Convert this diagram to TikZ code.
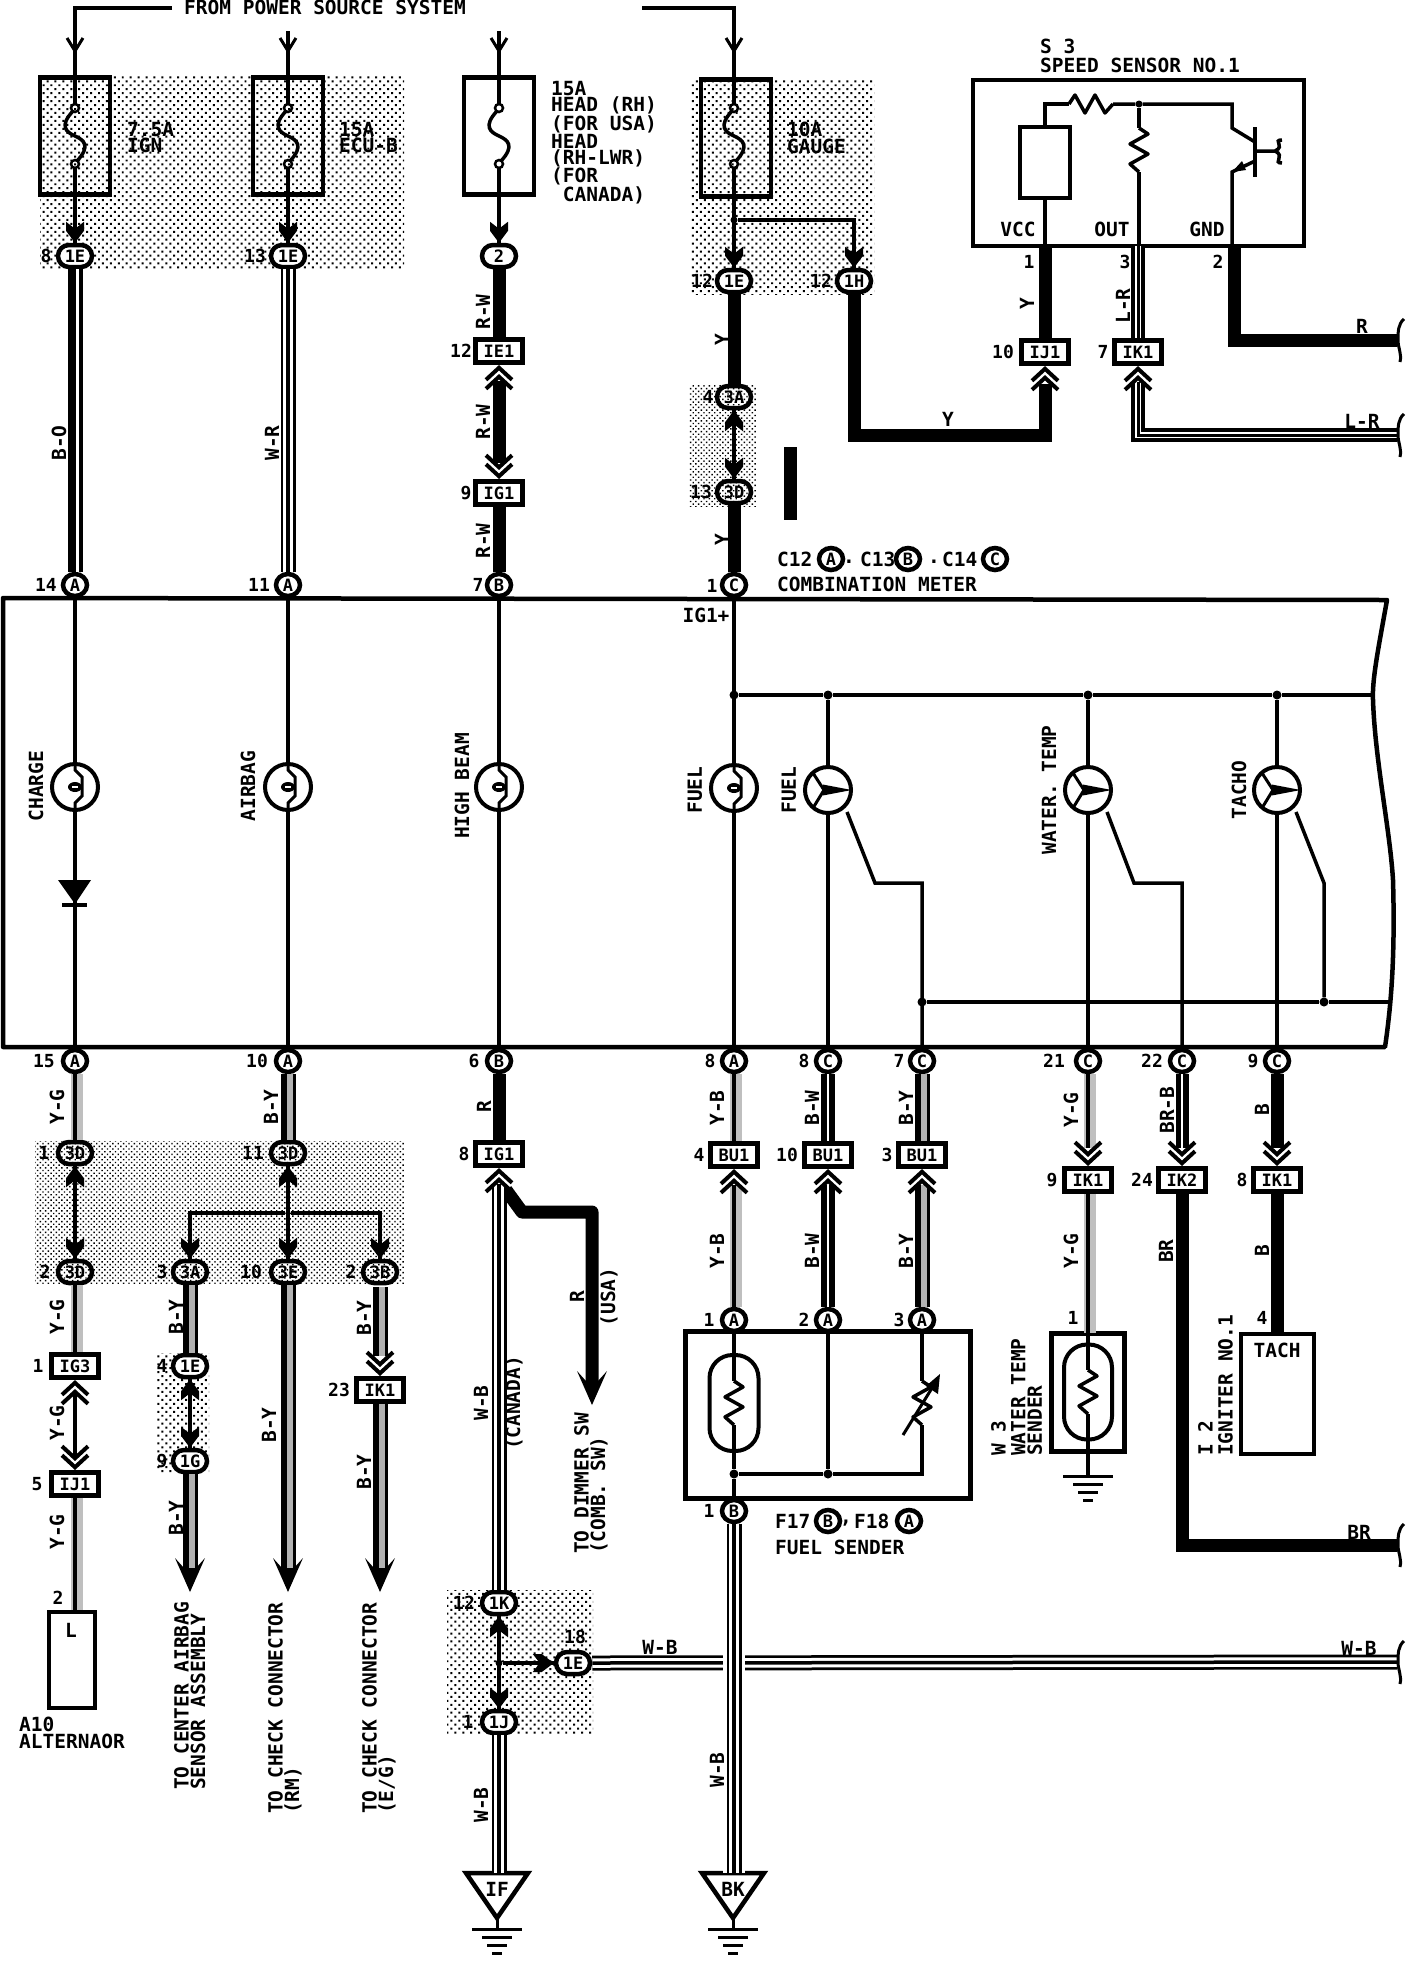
\documentclass[tikz,border=0pt]{standalone}
\usepackage{fontspec}
\setmainfont{DejaVu Sans Mono}
\usetikzlibrary{shapes.geometric,shapes.misc,patterns.meta}

\tikzset{
  x=1pt,y=-1pt,
  txt/.style={inner sep=0pt,font=\fontsize{19.5}{16.5}\selectfont\bfseries,align=left},
  rtxt/.style={txt,rotate=90},
  pinno/.style={inner sep=0pt,font=\fontsize{18}{18}\selectfont\bfseries},
  jcnd/.style={rounded rectangle,draw,line width=4.5pt,minimum width=34pt,minimum height=22pt,inner sep=0pt,font=\fontsize{17}{17}\selectfont\bfseries},
  jcn/.style={jcnd,fill=white},
  mcn/.style={ellipse,draw,fill=white,line width=4.5pt,minimum width=24pt,minimum height=22pt,inner sep=0pt,font=\fontsize{17}{17}\selectfont\bfseries},
  bcn/.style={rectangle,draw,fill=white,line width=4.5pt,minimum width=47pt,minimum height=23pt,inner sep=0pt,font=\fontsize{17}{17}\selectfont\bfseries},
  fusebox/.style={rectangle,draw,line width=4.5pt,minimum width=70pt,minimum height=117pt},
  capsule/.style={rectangle,draw,line width=4pt,rounded corners=23pt,minimum width=49pt,minimum height=96pt},
  compbox/.style={rectangle,draw,line width=4pt,inner sep=0pt},
  dotn/.style={circle,fill,inner sep=0pt,minimum size=9pt},
  shadea/.style={pattern={Dots[distance=5.6pt,radius=1.4pt,angle=45]}},
  shadeb/.style={pattern={Dots[distance=3.8pt,radius=1pt,angle=45]}},
  iw/.style={line width=3.5pt},
  wsolid/.style={line width=13pt},
  wbo/.style={line width=15pt,postaction={draw=white,line width=2.5pt,transform canvas={xshift=2.5pt}}},
  wwb/.style={line width=15pt,postaction={draw=white,line width=9.5pt},postaction={draw=black,line width=3.5pt}},
  wlr/.style={line width=14pt,postaction={draw=white,line width=6.5pt},postaction={draw=black,line width=3pt}},
  wgray/.style={line width=4.5pt,preaction={draw=black!25,line width=12pt,transform canvas={xshift=2pt}}},
  wby/.style={line width=15pt,postaction={draw=black!30,line width=6pt,transform canvas={xshift=2pt}}},
  wbw/.style={line width=14pt,postaction={draw=white,line width=2pt}},
  fusesym/.pic={
    \coordinate (-top) at (0,-32);
    \coordinate (-bot) at (0,32);
    \draw[line width=2.5pt] (0,-28) circle[radius=4];
    \draw[line width=2.5pt] (0,28) circle[radius=4];
    \draw[line width=3.5pt] (-2,-25) .. controls (-16,-10) and (-9,-4) .. (0,0) .. controls (9,4) and (16,10) .. (2,25);
  },
  lampsym/.pic={
    \coordinate (-n) at (0,-25);
    \coordinate (-s) at (0,25);
    \draw[line width=4pt] (0,0) circle[radius=23];
    \fill (0,0) ellipse[x radius=7,y radius=5];
    \draw[white,line width=1.5pt] (-3,0) -- (3,0);
    \draw[line width=3pt] (0,-25) -- (0,-17) -- (7,-10) -- (7,9) -- (0,16) -- (0,25);
  },
  gaugesym/.pic={
    \coordinate (-n) at (0,-24);
    \coordinate (-s) at (0,24);
    \coordinate (-se) at (19,22);
    \draw[line width=4pt] (0,0) circle[radius=23];
    \draw[line width=3pt] (-15,-17) -- (-4,0) -- (-15,18);
    \draw[line width=2.5pt,fill=black] (-4,-4) -- (17,0) -- (-4,4) -- cycle;
  },
  zigres/.pic={
    \coordinate (-n) at (0,-22);
    \coordinate (-s) at (0,22);
    \draw[line width=3.5pt,line join=round] (0,-22) -- (9,-16) -- (-9,-6) -- (9,4) -- (-9,14) -- (0,22);
  },
  chevup/.pic={
    \draw[line width=4pt] (-13,15) -- (0,3) -- (13,15);
    \draw[line width=4pt] (-13,24) -- (0,12) -- (13,24);
  },
  jtip/.pic={
    \fill (0,0) -- (9,12) -- (9,21) -- (0,14) -- (-9,21) -- (-9,12) -- cycle;
  },
  feedtip/.pic={
    \draw[line width=3pt] (-8,13) -- (0,0) -- (8,13);
  },
  bigtip/.pic={
    \fill (0,0) -- (15,34) -- (6,24) -- (-6,24) -- (-15,34) -- cycle;
  },
  brk/.pic={
    \draw[line width=3pt] (7,-21) .. controls (1,-16) and (1,-8) .. (1,0) .. controls (1,8) and (5,14) .. (3,22);
  },
  gnd/.pic={
    \draw[line width=3pt] (-25,0) -- (25,0);
    \draw[line width=3pt] (-15,8) -- (15,8);
    \draw[line width=3pt] (-10,16) -- (10,16);
    \draw[line width=3pt] (-5,24) -- (5,24);
  }
}

\begin{document}
\begin{tikzpicture}
\useasboundingbox (0,0) rectangle (1408,1982);

% shaded areas
\fill[shadea] (40,75) rectangle (404,268);
\fill[shadea] (690,79) rectangle (874,294);
\fill[shadeb] (689,385) rectangle (756,506);
\fill[shadeb] (35,1141) rectangle (404,1283);
\fill[shadea] (156,1353) rectangle (209,1473);
\fill[shadea] (447,1590) rectangle (593,1733);

% top feed
\node[txt] (pwr) at (325,7) {FROM POWER SOURCE SYSTEM};
\coordinate (pwrl) at (172,8);
\coordinate (pwrr) at (642,8);
\coordinate (fp2) at (288,31);
\coordinate (fp3) at (499,31);

% fuses
\node[fusebox] (fuse1) at (75,136) {};
\node[fusebox] (fuse2) at (288,136) {};
\node[fusebox] (fuse3) at (499,136) {};
\node[fusebox] (fuse4) at (736,138) {};
\pic (fa) at (75,136) {fusesym};
\pic (fb) at (288,136) {fusesym};
\pic (fc) at (499,136) {fusesym};
\pic (fd) at (734,136) {fusesym};
\node[txt,anchor=north west] (t75a) at (127,122) {7.5A\\IGN};
\node[txt,anchor=north west] (t15a) at (339,122) {15A\\ECU-B};
\node[txt,anchor=north west] (thead) at (551,81) {15A\\HEAD (RH)\\(FOR USA)\\HEAD\\(RH-LWR)\\(FOR\\\ CANADA)};
\node[txt,anchor=north west] (t10a) at (787,122) {10A\\GAUGE};

% connectors above the meter
\node[jcn] (je8) at (75,256) {1E};
\node[jcn] (je13) at (288,256) {1E};
\node[jcn] (j2) at (499,256) {2};
\node[jcn] (je12) at (734,281) {1E};
\node[jcn] (jh12) at (854,281) {1H};
\node[jcnd] (ja4) at (734,397) {3A};
\node[jcnd] (jd13) at (734,492) {3D};
\node[bcn] (ie1) at (499,351) {IE1};
\node[bcn] (ig1a) at (499,493) {IG1};
\node[pinno] (n8a) at (46,256) {8};
\node[pinno] (n13a) at (255,256) {13};
\node[pinno] (n12a) at (461,351) {12};
\node[pinno] (n9a) at (466,493) {9};
\node[pinno] (n12b) at (702,281) {12};
\node[pinno] (n12c) at (821,281) {12};
\node[pinno] (n4a) at (708,397) {4};
\node[pinno] (n13b) at (701,492) {13};
\node[mcn] (ca14) at (75,585) {A};
\node[mcn] (ca11) at (288,585) {A};
\node[mcn] (cb7) at (499,585) {B};
\node[mcn] (cc1) at (734,585) {C};
\node[pinno] (n14) at (46,585) {14};
\node[pinno] (n11) at (259,585) {11};
\node[pinno] (n7) at (478,585) {7};
\node[pinno] (n1) at (712,586) {1};
\node[rtxt] (lbo) at (59,443) {B-O};
\node[rtxt] (lwr) at (272,443) {W-R};
\node[rtxt] (lrw1) at (483,312) {R-W};
\node[rtxt] (lrw2) at (483,422) {R-W};
\node[rtxt] (lrw3) at (483,541) {R-W};
\node[rtxt] (ly1) at (722,340) {Y};
\node[rtxt] (ly2) at (722,540) {Y};

% speed sensor
\node[compbox,minimum width=331pt,minimum height=166pt] (s3) at (1138.5,163) {};
\node[txt,anchor=west] (ts3) at (1040,46) {S 3};
\node[txt,anchor=west] (ts3b) at (1040,65) {SPEED SENSOR NO.1};
\node[compbox,minimum width=50pt,minimum height=71pt] (hall) at (1045,162.5) {};
\pic[rotate=90] (rh) at (1091,104) {zigres};
\pic (rv) at (1139,150) {zigres};
\node[dotn,minimum size=7pt] (dout) at (1139,104) {};
\node[txt] (tvcc) at (1018,229) {VCC};
\node[txt] (tout) at (1112,229) {OUT};
\node[txt] (tgnd) at (1207,229) {GND};
\coordinate (ps1) at (1045,246);
\coordinate (ps3) at (1138,246);
\coordinate (ps2) at (1234,246);
\draw[iw] (hall.north) |- (rh-n);
\draw[iw] (rh-s) -- (dout) -- (1232,104) -- (1232,128) -- (1255,142);
\draw[iw] (dout) -- (rv-n);
\draw[iw] (rv-s) -- (1139,246);
\draw[iw] (hall.south) -- (ps1);
\draw[line width=4pt] (1255,127) -- (1255,177);
\draw[iw] (1255,151) -- (1275,151) .. controls (1286,146) and (1272,140) .. (1282,140);
\draw[iw] (1275,151) .. controls (1286,156) and (1272,163) .. (1282,163);
\draw[iw] (1255,161) -- (1232,172) -- (1232,246);
\fill (1232,172) -- (1242,161) -- (1246,170) -- cycle;
\node[pinno] (ns1) at (1029,262) {1};
\node[pinno] (ns3) at (1125,262) {3};
\node[pinno] (ns2) at (1218,262) {2};
\node[bcn] (ij1a) at (1045,352) {IJ1};
\node[bcn] (ik1a) at (1138,352) {IK1};
\node[pinno] (n10a) at (1003,352) {10};
\node[pinno] (n7a) at (1103,352) {7};
\coordinate (ycor) at (1045,435);
\coordinate (lrcor) at (1138,435);
\coordinate (lrend) at (1397,435);
\coordinate (rcor) at (1234,340);
\coordinate (rend) at (1397,340);
\node[rtxt] (ly3) at (1027,304) {Y};
\node[rtxt] (llr) at (1123,306) {L-R};
\node[txt] (ly4) at (948,419) {Y};
\node[txt] (tr1) at (1362,326) {R};
\node[txt] (tlr) at (1362,421) {L-R};
\fill (784,447) rectangle (797,520);
\node[txt,anchor=west] (tc12) at (777,559) {C12};
\node[mcn] (lega) at (831,559) {A};
\node[txt] (td1) at (849,562) {.};
\node[txt,anchor=west] (tc13) at (860,559) {C13};
\node[mcn] (legb) at (908,559) {B};
\node[txt] (td2) at (934,562) {.};
\node[txt,anchor=west] (tc14) at (942,559) {C14};
\node[mcn] (legc) at (995,559) {C};
\node[txt,anchor=west] (tcm) at (777,584) {COMBINATION METER};

% meter
\draw[line width=4.5pt,line join=round] (3,598) -- (1387,600) .. controls (1378,650) and (1372,680) .. (1373,700) .. controls (1375,760) and (1390,830) .. (1393,880) .. controls (1395,950) and (1392,1000) .. (1385,1047) -- (3,1047) -- cycle;
\node[txt] (tig) at (706,615) {IG1+};
\pic (lpa) at (75,787) {lampsym};
\pic (lpb) at (288,787) {lampsym};
\pic (lpc) at (499,787) {lampsym};
\pic (lpd) at (734,788) {lampsym};
\pic (gga) at (828,790) {gaugesym};
\pic (ggb) at (1088,790) {gaugesym};
\pic (ggc) at (1277,790) {gaugesym};
\node[rtxt] (tcha) at (36,786) {CHARGE};
\node[rtxt] (tair) at (248,786) {AIRBAG};
\node[rtxt] (thb) at (462,786) {HIGH BEAM};
\node[rtxt] (tfu1) at (695,790) {FUEL};
\node[rtxt] (tfu2) at (789,790) {FUEL};
\node[rtxt] (twt) at (1049,790) {WATER. TEMP};
\node[rtxt] (ttc) at (1239,790) {TACHO};
\node[dotn] (dba) at (734,695) {};
\node[dotn] (dbb) at (828,695) {};
\node[dotn] (dbc) at (1088,695) {};
\node[dotn] (dbd) at (1277,695) {};
\coordinate (bend) at (1373,695);
\node[dotn] (dra) at (922,1002) {};
\node[dotn] (drb) at (1324,1002) {};
\coordinate (rend2) at (1392,1002);

% connectors below the meter
\node[mcn] (ca15) at (75,1061) {A};
\node[mcn] (ca10) at (288,1061) {A};
\node[mcn] (cb6) at (499,1061) {B};
\node[mcn] (ca8) at (734,1061) {A};
\node[mcn] (cc8) at (828,1061) {C};
\node[mcn] (cc7) at (922,1061) {C};
\node[mcn] (cc21) at (1088,1061) {C};
\node[mcn] (cc22) at (1182,1061) {C};
\node[mcn] (cc9) at (1277,1061) {C};
\node[pinno] (n15) at (44,1061) {15};
\node[pinno] (n10b) at (257,1061) {10};
\node[pinno] (n6) at (474,1061) {6};
\node[pinno] (n8b) at (710,1061) {8};
\node[pinno] (n8c) at (804,1061) {8};
\node[pinno] (n7b) at (899,1061) {7};
\node[pinno] (n21) at (1054,1061) {21};
\node[pinno] (n22) at (1152,1061) {22};
\node[pinno] (n9b) at (1253,1061) {9};

\draw[iw] (ca14.south) -- (lpa-n);
\draw[iw] (lpa-s) -- (ca15.north);
\draw[iw] (ca11.south) -- (lpb-n);
\draw[iw] (lpb-s) -- (ca10.north);
\draw[iw] (cb7.south) -- (lpc-n);
\draw[iw] (lpc-s) -- (cb6.north);
\draw[iw] (cc1.south) -- (lpd-n);
\draw[iw] (lpd-s) -- (ca8.north);
\draw[iw] (dba) -- (dbb) -- (dbc) -- (dbd) -- (bend);
\draw[iw] (dbb) -- (gga-n);
\draw[iw] (gga-s) -- (cc8.north);
\draw[iw] (dbc) -- (ggb-n);
\draw[iw] (ggb-s) -- (cc21.north);
\draw[iw] (dbd) -- (ggc-n);
\draw[iw] (ggc-s) -- (cc9.north);
\draw[iw] (gga-se) -- (875,883) -- (922,883) -- (cc7.north);
\draw[iw] (ggb-se) -- (1134,883) -- (1182,883) -- (cc22.north);
\draw[iw] (ggc-se) -- (1324,883) -- (drb);
\draw[iw] (dra) -- (drb) -- (rend2);
\fill (58,880) -- (91,880) -- (75,904) -- cycle;
\draw[line width=3.5pt] (62,905) -- (87,905);

\node[jcnd] (jd1) at (75,1153) {3D};
\node[jcnd] (jd11) at (288,1153) {3D};
\node[jcnd] (jd2) at (75,1272) {3D};
\node[jcnd] (ja3) at (190,1272) {3A};
\node[jcnd] (je10) at (288,1272) {3E};
\node[jcnd] (jb2) at (380,1272) {3B};
\node[jcn] (je4) at (190,1366) {1E};
\node[jcn] (jg9) at (190,1461) {1G};
\node[pinno] (n1b) at (44,1153) {1};
\node[pinno] (n11b) at (253,1153) {11};
\node[pinno] (n2b) at (45,1272) {2};
\node[pinno] (n3b) at (162,1272) {3};
\node[pinno] (n10c) at (251,1272) {10};
\node[pinno] (n2c) at (351,1272) {2};
\node[pinno] (n4b) at (162,1366) {4};
\node[pinno] (n9c) at (162,1461) {9};
\node[bcn] (ig3) at (75,1366) {IG3};
\node[bcn] (ij1b) at (75,1484) {IJ1};
\node[bcn] (ik1b) at (380,1390) {IK1};
\node[bcn] (ig1b) at (499,1154) {IG1};
\node[pinno] (n1c) at (38,1366) {1};
\node[pinno] (n5) at (37,1484) {5};
\node[pinno] (n23) at (339,1390) {23};
\node[pinno] (n8d) at (464,1154) {8};
\node[bcn] (bua) at (734,1155) {BU1};
\node[bcn] (bub) at (828,1155) {BU1};
\node[bcn] (buc) at (922,1155) {BU1};
\node[pinno] (n4c) at (699,1155) {4};
\node[pinno] (n10d) at (787,1155) {10};
\node[pinno] (n3c) at (887,1155) {3};
\node[bcn] (ik1c) at (1088,1180) {IK1};
\node[bcn] (ik2) at (1182,1180) {IK2};
\node[bcn] (ik1d) at (1277,1180) {IK1};
\node[pinno] (n9d) at (1052,1180) {9};
\node[pinno] (n24) at (1142,1180) {24};
\node[pinno] (n8e) at (1242,1180) {8};

% alternator
\node[compbox,minimum width=46pt,minimum height=96pt] (alt) at (72,1660) {};
\node[txt] (tl) at (71,1630) {L};
\node[pinno] (n2d) at (58,1598) {2};
\node[txt,anchor=north west] (talt) at (19,1717) {A10\\ALTERNAOR};

% fuel sender
\node[compbox,line width=5pt,minimum width=285pt,minimum height=167pt] (fsend) at (827.5,1414.5) {};
\node[mcn] (caf1) at (734,1320) {A};
\node[mcn] (caf2) at (828,1320) {A};
\node[mcn] (caf3) at (922,1320) {A};
\node[mcn] (cbf1) at (734,1511) {B};
\node[pinno] (n1f) at (709,1320) {1};
\node[pinno] (n2f) at (804,1320) {2};
\node[pinno] (n3f) at (899,1320) {3};
\node[pinno] (n1g) at (709,1511) {1};
\node[capsule] (capf) at (734,1403) {};
\pic (rf) at (734,1403) {zigres};
\pic (rw) at (922,1403) {zigres};
\node[dotn] (dfa) at (734,1474) {};
\node[dotn] (dfb) at (828,1474) {};
\draw[iw] (caf1.south) -- (rf-n);
\draw[iw] (rf-s) -- (dfa);
\draw[iw] (dfa) -- (cbf1.north);
\draw[iw] (caf2.south) -- (dfb);
\draw[iw] (caf3.south) -- (rw-n);
\draw[iw] (rw-s) -- (922,1474) -- (dfb) -- (dfa);
\draw[line width=3pt] (903,1435) -- (932,1388);
\fill (940,1374) -- (938,1394) -- (926,1386) -- cycle;
\node[txt,anchor=west] (tf17) at (775,1521) {F17};
\node[mcn] (legd) at (828,1521) {B};
\node[txt] (tcm2) at (846,1523) {,};
\node[txt,anchor=west] (tf18) at (854,1521) {F18};
\node[mcn] (lege) at (909,1521) {A};
\node[txt,anchor=west] (tfs) at (775,1547) {FUEL SENDER};

% water temp sender
\node[compbox,line width=5pt,minimum width=73pt,minimum height=118pt] (wsend) at (1088,1392) {};
\node[capsule,minimum width=48pt,minimum height=95pt] (capw) at (1088,1392) {};
\pic (rs) at (1088,1392) {zigres};
\node[pinno] (n1w) at (1073,1318) {1};
\coordinate (gw) at (1088,1476);
\coordinate (wtop) at (1088,1333);
\draw[iw] (wtop) -- (rs-n);
\draw[iw] (rs-s) -- (gw);
\pic at (gw) {gnd};
\node[rtxt,anchor=north west] (tw3) at (991,1456) {W 3};
\node[rtxt,anchor=north west] (twts) at (1011,1456) {WATER TEMP\\SENDER};

% igniter
\node[compbox,minimum width=73pt,minimum height=120pt] (tach) at (1277,1394) {};
\node[txt] (ttach) at (1277,1350) {TACH};
\node[pinno] (n4w) at (1262,1318) {4};
\node[rtxt,anchor=north west] (ti2) at (1198,1456) {I 2};
\node[rtxt,anchor=north west] (tign) at (1218,1456) {IGNITER NO.1};

% grounds
\node[jcn] (jk12) at (499,1603) {1K};
\node[jcn] (jj1) at (499,1722) {1J};
\node[jcn] (je18) at (573,1663) {1E};
\node[pinno] (n12d) at (464,1603) {12};
\node[pinno] (n1j) at (468,1722) {1};
\node[pinno] (n18) at (575,1637) {18};
\node[dotn,minimum size=7pt] (dgr) at (499,1663) {};
\coordinate (gift) at (499,1873);
\coordinate (gbkt) at (734,1873);
\coordinate (gia) at (497,1929);
\coordinate (gib) at (733,1929);
\draw[line width=4.5pt,line join=miter] (466,1873) -- (528,1873) -- (497,1918) -- cycle;
\draw[line width=4.5pt,line join=miter] (702,1873) -- (764,1873) -- (733,1918) -- cycle;
\node[txt] (tif) at (497,1889) {IF};
\node[txt] (tbk) at (733,1889) {BK};
\draw[line width=3pt] (497,1918) -- (gia);
\draw[line width=3pt] (733,1918) -- (gib);
\pic at (gia) {gnd};
\pic at (gib) {gnd};
\coordinate (gwr) at (1397,1662);

% wires above the meter
\draw[iw] (pwrl) -| (fa-top);
\draw[iw] (pwrr) -| (fd-top);
\draw[iw] (fp2) -- (fb-top);
\draw[iw] (fp3) -- (fc-top);
\draw[iw] (fa-bot) -- (je8.north);
\draw[iw] (fb-bot) -- (je13.north);
\draw[iw] (fc-bot) -- (j2.north);
\draw[iw] (fd-bot) -- (je12.north);
\node[dotn,minimum size=7pt] (dfu) at (734,220) {};
\draw[iw] (dfu) -| (jh12.north);
\draw[wbo] (je8.south) -- (ca14.north);
\draw[wwb] (je13.south) -- (ca11.north);
\draw[wsolid] (j2.south) -- (ie1.north);
\draw[wsolid] ([yshift=-16pt]ie1.south) -- ([yshift=16pt]ig1a.north);
\draw[wsolid] (ig1a.south) -- (cb7.north);
\draw[wsolid] (je12.south) -- (ja4.north);
\draw[iw] (ja4.south) -- (jd13.north);
\draw[wsolid] (jd13.south) -- (cc1.north);
\draw[wsolid] (jh12.south) |- (ycor) -- ([yshift=-18pt]ij1a.south);
\draw[wsolid] (ps1) -- (ij1a.north);
\draw[wlr] (ps3) -- (ik1a.north);
\draw[wlr] ([yshift=-16pt]ik1a.south) -- (lrcor) -- (lrend);
\draw[wsolid] (ps2) -- (rcor) -- (rend);

% wires below the meter
\draw[wgray] (ca15.south) -- (jd1.north);
\draw[iw] (jd1.south) -- (jd2.north);
\draw[wgray] (jd2.south) -- (ig3.north);
\draw[iw] ([yshift=-12pt]ig3.south) -- ([yshift=12pt]ij1b.north);
\draw[wgray] (ij1b.south) -- (alt.north -| ij1b.south);
\draw[wby] (ca10.south) -- (jd11.north);
\draw[iw] (jd11.south) -- (je10.north);
\node[dotn,minimum size=5pt] (dby) at (288,1213) {};
\draw[iw] (ja3.north) |- (dby) -| (jb2.north);
\draw[wby] (ja3.south) -- (je4.north);
\draw[iw] (je4.south) -- (jg9.north);
\coordinate (cenend) at (190,1592);
\coordinate (rmend) at (288,1592);
\coordinate (egend) at (380,1592);
\draw[wby] (jg9.south) -- ([yshift=24pt]cenend);
\draw[wby] (je10.south) -- ([yshift=24pt]rmend);
\draw[wby] ([yshift=-2pt]jb2.south) -- ([yshift=20pt]ik1b.north);
\draw[wby] (ik1b.south) -- ([yshift=24pt]egend);
\pic[rotate=180] at (cenend) {bigtip};
\pic[rotate=180] at (rmend) {bigtip};
\pic[rotate=180] at (egend) {bigtip};
\draw[wsolid] (cb6.south) -- (ig1b.north);
\coordinate (rbr) at (522,1212);
\coordinate (rbs) at (592,1212);
\coordinate (dimend) at (592,1405);
\draw[wsolid,line join=round] (506,1190) -- (rbr) -- (rbs) -- ([yshift=24pt]dimend);
\pic[rotate=180] at (dimend) {bigtip};
\draw[wwb] ([yshift=-16pt]ig1b.south) -- (jk12.north);
\draw[iw] (jk12.south) -- (jj1.north);
\draw[iw] (dgr) -- (je18.west);
\draw[wwb] (jj1.south) -- (gift);
\draw[wwb] (je18.east) -- (gwr);
\draw[wwb,preaction={draw=white,line width=22pt}] (cbf1.south) -- (gbkt);
\draw[wgray] (ca8.south) -- (bua.north);
\draw[wgray] ([yshift=-16pt]bua.south) -- (caf1.north);
\draw[wbw] (cc8.south) -- (bub.north);
\draw[wbw] ([yshift=-16pt]bub.south) -- (caf2.north);
\draw[wby] (cc7.south) -- (buc.north);
\draw[wby] ([yshift=-16pt]buc.south) -- (caf3.north);
\draw[wgray] (cc21.south) -- ([yshift=18pt]ik1c.north);
\draw[wgray] (ik1c.south) -- (wtop);
\draw[wbw,line width=13pt] (cc22.south) -- ([yshift=18pt]ik2.north);
\coordinate (brcor) at (1182,1545);
\coordinate (brend) at (1397,1545);
\draw[wsolid] (ik2.south) -- (brcor) -- (brend);
\draw[wsolid] (cc9.south) -- ([yshift=18pt]ik1d.north);
\draw[wsolid] (ik1d.south) -- (tach.north);

% wire breaks
\pic at (rend) {brk};
\pic at (lrend) {brk};
\pic at (brend) {brk};
\pic at (gwr) {brk};

% tips on the wires
\pic at (75,51) [rotate=180] {feedtip};
\pic at (288,51) [rotate=180] {feedtip};
\pic at (499,51) [rotate=180] {feedtip};
\pic at (734,51) [rotate=180] {feedtip};
\pic[rotate=180] at (je8.north) {jtip};
\pic[rotate=180] at (je13.north) {jtip};
\pic[rotate=180] at (j2.north) {jtip};
\pic[rotate=180] at (je12.north) {jtip};
\pic[rotate=180] at (jh12.north) {jtip};
\pic at (ja4.south) {jtip};
\pic[rotate=180] at (jd13.north) {jtip};
\pic at (jd1.south) {jtip};
\pic at (jd11.south) {jtip};
\pic[rotate=180] at (jd2.north) {jtip};
\pic[rotate=180] at (ja3.north) {jtip};
\pic[rotate=180] at (je10.north) {jtip};
\pic[rotate=180] at (jb2.north) {jtip};
\pic at (je4.south) {jtip};
\pic[rotate=180] at (jg9.north) {jtip};
\pic at (jk12.south) {jtip};
\pic[rotate=180] at (jj1.north) {jtip};
\pic[rotate=-90] at (je18.west) {jtip};
\pic at (ie1.south) {chevup};
\pic[rotate=180] at (ig1a.north) {chevup};
\pic at (ij1a.south) {chevup};
\pic at (ik1a.south) {chevup};
\pic at (ig3.south) {chevup};
\pic[rotate=180] at (ij1b.north) {chevup};
\pic[rotate=180] at (ik1b.north) {chevup};
\pic at (ig1b.south) {chevup};
\pic at (bua.south) {chevup};
\pic at (bub.south) {chevup};
\pic at (buc.south) {chevup};
\pic[rotate=180] at (ik1c.north) {chevup};
\pic[rotate=180] at (ik2.north) {chevup};
\pic[rotate=180] at (ik1d.north) {chevup};

% wire labels
\node[rtxt] (lyg1) at (57,1107) {Y-G};
\node[rtxt] (lby1) at (271,1107) {B-Y};
\node[rtxt] (lr1) at (484,1107) {R};
\node[rtxt] (lyg2) at (57,1317) {Y-G};
\node[rtxt] (lby2) at (176,1317) {B-Y};
\node[rtxt] (lyg3) at (57,1423) {Y-G};
\node[rtxt] (lby3) at (269,1425) {B-Y};
\node[rtxt] (lby4) at (364,1318) {B-Y};
\node[rtxt] (lby5) at (364,1472) {B-Y};
\node[rtxt] (lyg4) at (57,1532) {Y-G};
\node[rtxt] (lby6) at (176,1518) {B-Y};
\node[rtxt] (lr2) at (577,1297) {R};
\node[rtxt] (tusa) at (609,1297) {(USA)};
\node[rtxt] (lwb1) at (481,1403) {W-B};
\node[rtxt] (tcan) at (514,1403) {(CANADA)};
\node[rtxt,anchor=north west] (tdim) at (574,1554) {TO DIMMER SW\\(COMB. SW)};
\node[rtxt,anchor=north west] (tcen) at (174,1790) {TO CENTER AIRBAG\\SENSOR ASSEMBLY};
\node[rtxt,anchor=north west] (tchk1) at (268,1814) {TO CHECK CONNECTOR\\(RM)};
\node[rtxt,anchor=north west] (tchk2) at (362,1814) {TO CHECK CONNECTOR\\(E/G)};
\node[rtxt] (lwb2) at (481,1805) {W-B};
\node[rtxt] (lwb3) at (717,1770) {W-B};
\node[txt] (lwb4) at (660,1647) {W-B};
\node[txt] (lwb5) at (1359,1648) {W-B};
\node[rtxt] (lyb1) at (717,1108) {Y-B};
\node[rtxt] (lbw1) at (812,1108) {B-W};
\node[rtxt] (lby7) at (906,1108) {B-Y};
\node[rtxt] (lyg5) at (1071,1110) {Y-G};
\node[rtxt] (lbrb) at (1167,1110) {BR-B};
\node[rtxt] (lb1) at (1262,1110) {B};
\node[rtxt] (lyb2) at (717,1251) {Y-B};
\node[rtxt] (lbw2) at (812,1251) {B-W};
\node[rtxt] (lby8) at (906,1251) {B-Y};
\node[rtxt] (lyg6) at (1071,1251) {Y-G};
\node[rtxt] (lbr) at (1166,1251) {BR};
\node[rtxt] (lb2) at (1262,1251) {B};
\node[txt] (tbr) at (1359,1532) {BR};
\end{tikzpicture}
\end{document}
